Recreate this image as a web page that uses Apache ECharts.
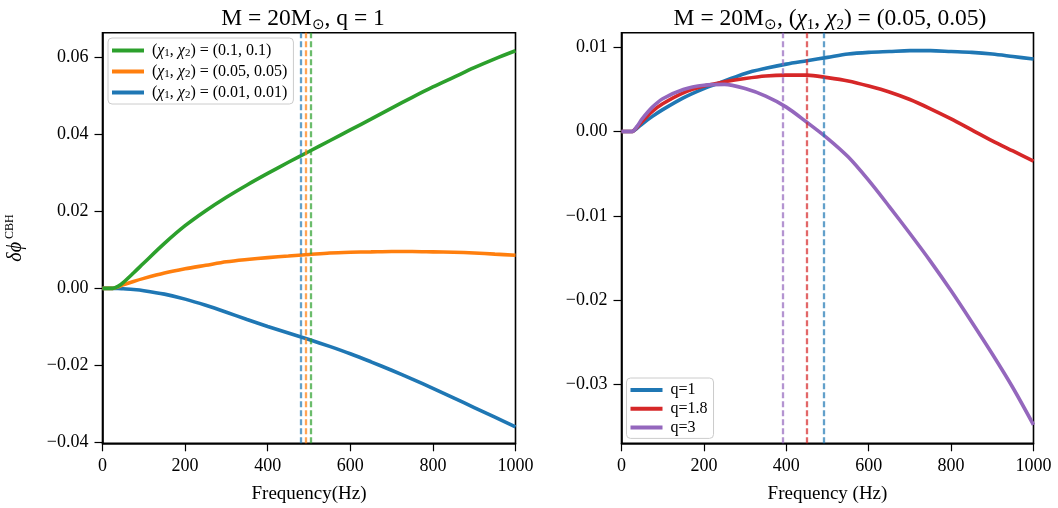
<!DOCTYPE html>
<html>
<head>
<meta charset="utf-8">
<script src="https://cdn.jsdelivr.net/npm/echarts@6/dist/echarts.min.js"></script>
<style>
  html, body { margin: 0; padding: 0; background: #fff; }
  #chart { width: 1058px; height: 508px; }
</style>
</head>
<body>
<div id="chart"></div>
<script>
// Frequency samples (Hz)
const freq = [0, 25, 37.5, 50, 75, 100, 150, 200, 250, 300, 350, 400, 450, 500,
              550, 600, 650, 700, 750, 800, 850, 900, 950, 1000];

// Left panel: M = 20 Msun, q = 1, varying spins
const phiChi010 = [0, 0, 0.0005, 0.0015, 0.0040, 0.0066, 0.0117, 0.0163, 0.0202, 0.0237, 0.0269, 0.0299,
                   0.0328, 0.0356, 0.0384, 0.0412, 0.0440, 0.0469, 0.0497, 0.0524, 0.0549,
                   0.0574, 0.0597, 0.0618];
const phiChi005 = [0, 0, 0.0004, 0.0009, 0.0018, 0.0026, 0.0040, 0.0051, 0.0060, 0.0069, 0.0075, 0.0080,
                   0.0084, 0.0088, 0.0092, 0.0094, 0.0095, 0.0096, 0.0096, 0.0095, 0.0094,
                   0.0092, 0.0089, 0.0086];
const phiChi001 = [0, 0, 0, -0.0001, -0.0003, -0.0006, -0.0015, -0.0028, -0.0044, -0.0062, -0.0081,
                   -0.0099, -0.0116, -0.0133, -0.0151, -0.0170, -0.0191, -0.0213, -0.0236,
                   -0.0260, -0.0285, -0.0310, -0.0335, -0.0360];

// Right panel: M = 20 Msun, spins (0.05, 0.05), varying mass ratio
const phiQ1 = [0, 0, 0.0004, 0.0009, 0.0018, 0.0026, 0.0040, 0.0051, 0.0060, 0.0069, 0.0075, 0.0080,
               0.0084, 0.0088, 0.0092, 0.0094, 0.0095, 0.0096, 0.0096, 0.0095, 0.0094,
               0.0092, 0.0089, 0.0086];
const phiQ18 = [0, 0, 0.0005, 0.0012, 0.0024, 0.0033, 0.0046, 0.0054, 0.0059, 0.0063, 0.0066, 0.0067,
                0.0067, 0.0064, 0.0060, 0.0054, 0.0047, 0.0038, 0.0027, 0.0015, 0.0002,
                -0.0011, -0.0023, -0.0035];
const phiQ3 = [0, 0, 0.0006, 0.0015, 0.0029, 0.0039, 0.0050, 0.0055, 0.0056, 0.0051, 0.0042, 0.0029,
               0.0011, -0.0008, -0.0030, -0.0058, -0.0089, -0.0121, -0.0154, -0.0189, -0.0226,
               -0.0264, -0.0304, -0.0348];

// Cut-off frequencies (Hz), dashed vertical markers
const cutChi010 = 505, cutChi005 = 492, cutChi001 = 481;
const cutQ1 = 491, cutQ18 = 450, cutQ3 = 391;

// Tick values
const xTicks = [0, 200, 400, 600, 800, 1000];
const yTicksLeft = [-0.04, -0.02, 0.00, 0.02, 0.04, 0.06];
const yTicksRight = [-0.03, -0.02, -0.01, 0.00, 0.01];

const FONT = 'Liberation Serif';
const C = { blue: '#1f77b4', orange: '#ff7f0e', green: '#2ca02c', red: '#d62728', purple: '#9467bd' };

const legendLabels = {
  chi010: '({m|χ}{sub|1}, {m|χ}{sub|2}) = (0.1, 0.1)',
  chi005: '({m|χ}{sub|1}, {m|χ}{sub|2}) = (0.05, 0.05)',
  chi001: '({m|χ}{sub|1}, {m|χ}{sub|2}) = (0.01, 0.01)',
  q1: 'q=1',
  q18: 'q=1.8',
  q3: 'q=3'
};

function curve(name, ys, color, idx, cut) {
  return {
    type: 'line', name: name,
    xAxisIndex: idx, yAxisIndex: idx,
    data: freq.map((f, i) => [f, ys[i]]),
    showSymbol: false, smooth: 0.3,
    lineStyle: { color: color, width: 3.6 },
    itemStyle: { color: color },
    emphasis: { disabled: true },
    z: 3,
    markLine: {
      silent: true, symbol: 'none', animation: false,
      label: { show: false },
      emphasis: { disabled: true },
      lineStyle: { color: color, type: [6, 3], width: 2.3, opacity: 0.7 },
      data: [{ xAxis: cut }]
    }
  };
}

const tickFmt = v => v.toFixed(2).replace('-', '\u2212');
const axisCommon = {
  axisLine: { show: true, onZero: false, lineStyle: { color: '#000', width: 1.6 } },
  axisTick: { show: true, length: 8, lineStyle: { color: '#000', width: 1.2 } },
  splitLine: { show: false },
};
const labelCommon = { color: '#000', fontFamily: FONT, fontSize: 18 };

function xAxis(idx, name) {
  return Object.assign({}, axisCommon, {
    type: 'value', gridIndex: idx, min: 0, max: 1000, interval: 200,
    axisTick: Object.assign({}, axisCommon.axisTick, { customValues: xTicks }),
    axisLabel: Object.assign({}, labelCommon, { margin: 14, customValues: xTicks, formatter: v => String(v) }),
    name: name, nameLocation: 'middle', nameGap: 41,
    nameTextStyle: { color: '#000', fontFamily: FONT, fontSize: 19 }
  });
}
function yAxis(idx, min, max, ticks, named) {
  const ax = Object.assign({}, axisCommon, {
    type: 'value', gridIndex: idx, min: min, max: max,
    axisTick: Object.assign({}, axisCommon.axisTick, { customValues: ticks }),
    axisLabel: Object.assign({}, labelCommon, { margin: 14, customValues: ticks, formatter: tickFmt })
  });
  if (named) {
    Object.assign(ax, {
      name: '{a|δϕ}{b|CBH}', nameLocation: 'middle', nameGap: 74, nameRotate: 90,
      nameTextStyle: {
        color: '#000', fontFamily: FONT,
        rich: {
          a: { fontFamily: FONT, fontStyle: 'italic', fontSize: 20, lineHeight: 25, verticalAlign: 'middle', color: '#000' },
          b: { fontFamily: FONT, fontSize: 12, lineHeight: 12, verticalAlign: 'top', padding: [0, 0, 0, 3], color: '#000' }
        }
      }
    });
  }
  return ax;
}

const legendText = {
  color: '#000', fontFamily: FONT, fontSize: 16, lineHeight: 16, padding: [0, 0, 0, 3],
  rich: {
    m: { fontFamily: FONT, fontStyle: 'italic', fontSize: 16, lineHeight: 17, verticalAlign: 'middle', color: '#000' },
    sub: { fontFamily: FONT, fontSize: 11, lineHeight: 11, verticalAlign: 'bottom', color: '#000' }
  }
};
function legend(left, top, names, gap) {
  return {
    left: left, top: top, orient: 'vertical', icon: 'rect',
    itemWidth: 32, itemHeight: 4, itemGap: gap,
    padding: [4, 6, 3, 4],
    backgroundColor: 'rgba(255,255,255,0.85)', borderColor: '#cccccc', borderWidth: 1, borderRadius: 4,
    selectedMode: false,
    data: names,
    formatter: n => legendLabels[n],
    textStyle: legendText
  };
}

const titleRich = {
  t: { fontFamily: FONT, fontWeight: 'normal', fontSize: 23.5, lineHeight: 28, verticalAlign: 'middle', color: '#000' },
  i: { fontFamily: FONT, fontWeight: 'normal', fontStyle: 'italic', fontSize: 23.5, lineHeight: 28, verticalAlign: 'middle', color: '#000' },
  s: { fontFamily: FONT, fontWeight: 'normal', fontSize: 15, lineHeight: 15, verticalAlign: 'bottom', color: '#000' }
};

const gridCommon = { show: true, borderColor: '#000', borderWidth: 1.6, backgroundColor: 'transparent', containLabel: false, outerBoundsMode: 'none' };

const chart = echarts.init(document.getElementById('chart'), null, { renderer: 'canvas' });
chart.setOption({
  animation: false,
  backgroundColor: '#fff',
  title: [
    { text: '{t|M = 20M}{s|⊙}{t|, q = 1}', left: 298, top: 0, textAlign: 'center',
      textStyle: { fontWeight: 'normal', rich: titleRich } },
    { text: '{t|M = 20M}{s|⊙}{t|, (}{i|χ}{s|1}{t|, }{i|χ}{s|2}{t|) = (0.05, 0.05)}', left: 825, top: 0, textAlign: 'center',
      textStyle: { fontWeight: 'normal', rich: titleRich } }
  ],
  grid: [
    Object.assign({ left: 102.5, top: 32.7, width: 413, height: 410.6 }, gridCommon),
    Object.assign({ left: 621.5, top: 32.7, width: 412, height: 410.6 }, gridCommon)
  ],
  xAxis: [xAxis(0, 'Frequency(Hz)'), xAxis(1, 'Frequency (Hz)')],
  yAxis: [
    yAxis(0, -0.0403, 0.0665, yTicksLeft, true),
    yAxis(1, -0.03699, 0.01173, yTicksRight, false)
  ],
  legend: [
    legend(108, 38, ['chi010', 'chi005', 'chi001'], 4),
    legend(626.5, 378, ['q1', 'q18', 'q3'], 2.7)
  ],
  series: [
    curve('chi001', phiChi001, C.blue, 0, cutChi001),
    curve('chi005', phiChi005, C.orange, 0, cutChi005),
    curve('chi010', phiChi010, C.green, 0, cutChi010),
    curve('q1', phiQ1, C.blue, 1, cutQ1),
    curve('q18', phiQ18, C.red, 1, cutQ18),
    curve('q3', phiQ3, C.purple, 1, cutQ3)
  ]
});
</script>
</body>
</html>
